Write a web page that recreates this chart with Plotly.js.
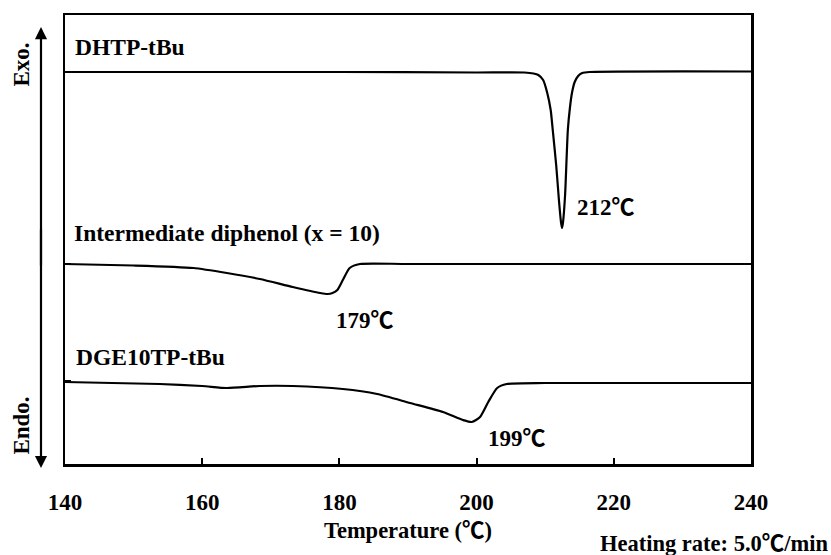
<!DOCTYPE html>
<html>
<head>
<meta charset="utf-8">
<script src="https://cdn.plot.ly/plotly-3.0.1.min.js"></script>
<style>html,body{margin:0;padding:0;background:#fff;}#chart{width:831px;height:555px;}</style>
</head>
<body>
<div id="chart"></div>
<script>
// Temperature (°C) and DSC signal (arbitrary offset units)
var tempDHTP = [140, 180, 200, 207, 208.3, 209, 209.7, 210.3, 210.8, 211.1, 211.6, 212.0, 212.3, 212.45, 212.6, 212.9, 213.3, 213.6, 213.9, 214.3, 214.8, 215.4, 216.5, 240];
var sigDHTP  = [392, 392, 391.5, 391.5, 390.5, 389, 384, 371, 354, 334, 299, 264, 242, 236, 242, 269, 334, 356, 371, 382, 388, 391, 392, 392.5];

var tempDiphenol = [140, 150, 158.7, 163.6, 168.4, 173.2, 177.2, 178.3, 179.0, 179.7, 180.5, 181.5, 183.0, 190, 240];
var sigDiphenol  = [200, 198.5, 196, 191, 185, 177, 171, 170, 171, 174, 184, 196, 200, 200, 200];

var tempDGE = [140, 153.8, 160, 163.6, 168.4, 173.2, 180.5, 185.5, 190.3, 195.1, 198.0, 199.3, 200.5, 201.7, 203.0, 204.4, 210, 240];
var sigDGE  = [82, 80, 78, 76, 78, 78, 75, 70, 61, 52, 44, 42, 47, 62, 76, 80, 81, 81];

var xTicks = [140, 160, 180, 200, 220, 240];
var yTicks = [83, 200];

var seriesNames = ['DHTP-tBu', 'Intermediate diphenol (x = 10)', 'DGE10TP-tBu'];
var peakLabels = ['212℃', '179℃', '199℃'];
var peakLabelX = [214.4, 179.2, 201.3];
var peakLabelY = [257, 144, 26];
var nameLabelX = [141.1, 141.0, 141.3];
var nameLabelY = [417, 231, 107];

var FONT = 'Liberation Serif, "Times New Roman", "Noto Sans CJK JP", serif';

var traces = [
  {x: tempDHTP, y: sigDHTP, name: seriesNames[0]},
  {x: tempDiphenol, y: sigDiphenol, name: seriesNames[1]},
  {x: tempDGE, y: sigDGE, name: seriesNames[2]}
].map(function(t){
  t.type = 'scatter'; t.mode = 'lines';
  t.line = {color: '#000', width: 2.2, shape: 'spline', smoothing: 0.6};
  t.hoverinfo = 'x+y';
  return t;
});

var annotations = [];
for (var i = 0; i < 3; i++) {
  annotations.push({x: nameLabelX[i], y: nameLabelY[i], xref: 'x', yref: 'y', text: '<b>' + seriesNames[i] + '</b>',
    showarrow: false, xanchor: 'left', yanchor: 'middle', font: {family: FONT, size: 23.5, color: '#000'}});
  annotations.push({x: peakLabelX[i], y: peakLabelY[i], xref: 'x', yref: 'y', text: '<b>' + peakLabels[i] + '</b>',
    showarrow: false, xanchor: 'left', yanchor: 'middle', font: {family: FONT, size: 23, color: '#000'}});
}
// Exo / Endo arrow
annotations.push({x: -0.035, y: 0.973, xref: 'paper', yref: 'paper', text: '', showarrow: true,
  ax: 0, ay: 240, arrowhead: 2, arrowsize: 1.1, arrowwidth: 2.2, arrowcolor: '#000'});
annotations.push({x: -0.035, y: -0.009, xref: 'paper', yref: 'paper', text: '', showarrow: true,
  ax: 0, ay: -240, arrowhead: 2, arrowsize: 1.1, arrowwidth: 2.2, arrowcolor: '#000'});
annotations.push({x: -0.063, y: 0.889, xref: 'paper', yref: 'paper', text: '<b>Exo.</b>', textangle: -90,
  showarrow: false, xanchor: 'center', yanchor: 'middle', font: {family: FONT, size: 23, color: '#000'}});
annotations.push({x: -0.063, y: 0.085, xref: 'paper', yref: 'paper', text: '<b>Endo.</b>', textangle: -90,
  showarrow: false, xanchor: 'center', yanchor: 'middle', font: {family: FONT, size: 23, color: '#000'}});
annotations.push({x: 1.117, y: -0.176, xref: 'paper', yref: 'paper', text: '<b>Heating rate: 5.0℃/min</b>',
  showarrow: false, xanchor: 'right', yanchor: 'middle', font: {family: FONT, size: 22.5, color: '#000'}});

var layout = {
  width: 831, height: 555,
  margin: {l: 65, r: 80, t: 15, b: 91},
  paper_bgcolor: '#fff', plot_bgcolor: '#fff',
  showlegend: false,
  xaxis: {
    range: [140, 240], tickvals: xTicks, ticktext: xTicks.map(String),
    ticks: 'inside', ticklen: 6, tickwidth: 2, tickcolor: '#000',
    showline: true, linewidth: 2.5, linecolor: '#000', mirror: true,
    showgrid: false, zeroline: false, ticklabelstandoff: 16,
    tickfont: {family: FONT, size: 23, color: '#000', weight: 'bold'},
    title: {text: '<b>Temperature (℃)</b>', font: {family: FONT, size: 22.5, color: '#000'}, standoff: 8}
  },
  yaxis: {
    range: [0, 449], tickvals: yTicks, showticklabels: false,
    ticks: 'inside', ticklen: 6, tickwidth: 2, tickcolor: '#000',
    showline: true, linewidth: 2.5, linecolor: '#000', mirror: true,
    showgrid: false, zeroline: false
  },
  annotations: annotations
};

Plotly.newPlot('chart', traces, layout, {displayModeBar: false, staticPlot: true});
</script>
</body>
</html>
